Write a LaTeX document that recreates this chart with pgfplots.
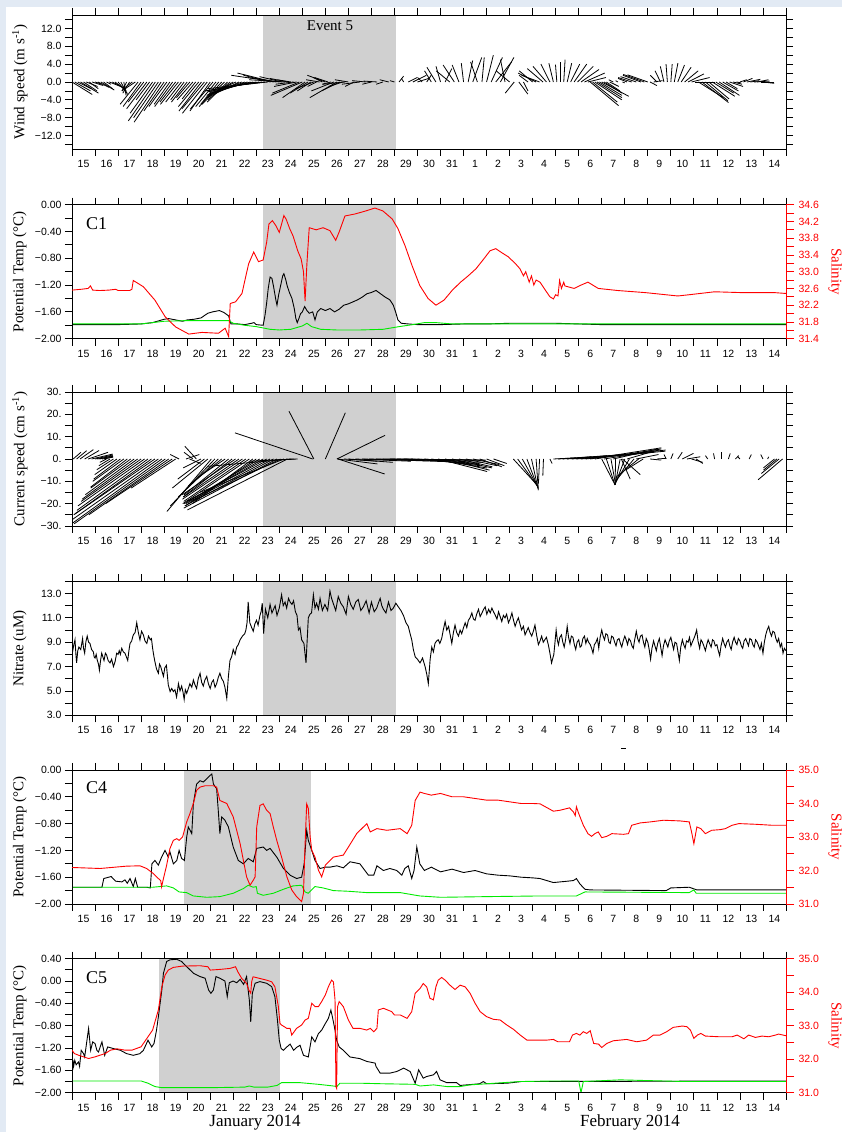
\documentclass[border=0pt]{standalone}
\usepackage{pgfplots}
\usepackage{pgfplotstable}
\pgfplotsset{compat=1.18}
\usepackage{fontspec}
\setmainfont{Liberation Serif}
\setsansfont{Liberation Sans}
\definecolor{shade}{RGB}{208,208,208}
\definecolor{frameblue}{RGB}{226,234,244}
\definecolor{sgreen}{RGB}{0,235,0}

\pgfplotstableread[row sep=\\]{
t u v\\
0.00 4.5 -2.8\\ 0.12 3.5 -2.0\\ 0.25 3.0 -1.5\\ 0.37 4.0 -2.5\\ 0.50 3.0 -2.0\\ 0.62 2.5 -1.0\\ 0.75 2.0 -1.5\\ 0.87 2.5 -0.8\\
1.00 1.5 -0.5\\ 1.12 2.5 -1.2\\ 1.25 3.0 -1.8\\ 1.37 2.0 -1.5\\ 1.50 1.0 -0.5\\ 1.62 2.5 -1.0\\ 1.75 3.0 -1.5\\ 1.87 2.5 -2.0\\
2.00 2.0 -2.5\\ 2.12 1.5 -2.8\\ 2.25 0.5 -3.0\\ 2.37 -1.0 -2.0\\ 2.50 -1.5 -2.5\\ 2.62 -2.0 -1.5\\ 2.75 -3.0 -2.0\\ 2.87 -4.0 -5.0\\
3.00 -4.0 -5.5\\ 3.12 -3.5 -4.5\\ 3.25 -4.5 -6.0\\ 3.37 -3.0 -4.0\\ 3.50 -5.0 -7.0\\ 3.62 -6.0 -8.7\\ 3.75 -5.5 -8.0\\ 3.87 -6.0 -9.0\\
4.00 -4.5 -6.5\\ 4.12 -4.0 -5.5\\ 4.25 -3.5 -5.0\\ 4.37 -4.0 -5.5\\ 4.50 -3.5 -4.5\\ 4.62 -4.0 -5.0\\ 4.75 -3.5 -4.5\\ 4.87 -3.0 -4.0\\
5.00 -3.5 -4.5\\ 5.12 -3.0 -3.5\\ 5.25 -3.5 -4.0\\ 5.37 -3.0 -3.8\\ 5.50 -4.5 -5.5\\ 5.62 -5.0 -6.5\\ 5.75 -5.0 -6.0\\ 5.87 -5.5 -7.0\\
6.00 -4.5 -6.5\\ 6.12 -5.0 -6.0\\ 6.25 -4.5 -5.5\\ 6.37 -4.0 -5.0\\ 6.50 -5.0 -5.5\\ 6.62 -5.0 -5.0\\ 6.75 -4.5 -4.5\\ 6.87 -5.0 -4.0\\
7.00 -6.0 -3.5\\ 7.12 -6.5 -3.0\\ 7.25 -7.0 -3.5\\ 7.37 -7.5 -3.0\\ 7.50 -8.0 -3.0\\ 7.62 -8.0 -2.5\\ 7.75 -9.0 -2.5\\ 7.87 -10.0 -2.2\\
8.00 -11.0 -2.0\\ 8.12 -12.0 -2.0\\ 8.25 -12.0 -1.5\\ 8.37 -10.0 -1.2\\ 8.50 -9.0 -1.0\\ 8.62 -6.0 1.5\\ 8.75 -8.0 2.0\\ 8.87 -10.0 1.5\\
9.00 -7.0 1.0\\ 9.12 -5.0 1.2\\ 9.25 -8.0 0.5\\ 9.37 -4.0 0.8\\ 9.50 -3.0 0.5\\ 9.62 -4.0 -0.5\\ 9.75 -5.0 -1.0\\ 9.87 -6.0 -2.5\\
10.00 -7.0 -3.0\\ 10.12 -5.0 -3.5\\ 10.25 -4.0 -2.5\\ 10.37 -3.0 -2.0\\ 10.50 -4.0 -1.5\\ 10.62 -2.0 -1.0\\ 10.75 -3.0 0.5\\ 10.87 -2.0 1.0\\
11.00 -4.0 1.5\\ 11.12 -3.0 1.0\\ 11.25 -2.0 -0.5\\ 11.37 -5.0 -2.0\\ 11.50 -6.0 -3.5\\ 11.62 -4.0 -2.0\\ 11.75 -3.0 -1.0\\ 11.87 -5.0 -0.5\\
12.00 -3.0 0.5\\ 12.25 -2.0 -1.0\\ 12.50 -4.0 -0.5\\ 12.75 -3.0 0.3\\ 13.00 -2.0 -0.5\\ 13.25 -3.0 0.2\\ 13.50 -1.5 -0.5\\ 13.75 -2.0 0.5\\
14.00 -1.0 0.3\\ 14.20 1.0 1.3\\ 14.40 -0.5 0.8\\ 14.60 2.0 1.0\\ 14.80 3.0 1.5\\ 15.00 2.5 0.8\\ 15.20 -1.0 1.0\\ 15.40 1.0 1.5\\
15.60 -1.5 2.5\\ 15.80 -2.0 3.3\\ 16.00 -1.0 3.5\\ 16.20 1.5 3.0\\ 16.40 -3.0 2.5\\ 16.60 -2.5 3.8\\ 16.80 -1.5 3.8\\ 17.00 -0.5 4.2\\
17.20 1.0 4.8\\ 17.40 2.0 5.5\\ 17.60 -1.5 4.5\\ 17.80 0.5 5.5\\ 18.00 1.5 6.0\\ 18.20 2.5 5.5\\ 18.40 3.5 4.5\\ 18.60 3.0 5.5\\
18.80 -1.0 5.0\\ 19.00 -3.0 2.5\\ 19.20 -2.0 -2.5\\ 19.40 2.0 -2.7\\ 19.60 1.0 -2.0\\ 19.80 -2.0 1.5\\ 20.00 -3.0 2.5\\ 20.15 -4.0 2.0\\
20.30 -4.0 1.5\\ 20.45 -3.5 3.0\\ 20.60 -3.0 3.5\\ 20.75 -2.0 4.0\\ 20.90 -1.0 4.2\\ 21.05 -0.3 3.9\\ 21.20 0.0 4.5\\ 21.35 0.3 5.0\\
21.50 1.0 4.2\\ 21.65 2.0 4.0\\ 21.80 2.8 4.0\\ 21.95 3.5 3.5\\ 22.10 4.0 2.8\\ 22.25 4.5 2.0\\ 22.40 4.0 1.0\\ 22.50 6.3 -5.3\\
22.60 5.5 -4.5\\ 22.70 6.0 -4.0\\ 22.80 5.5 -3.5\\ 22.90 5.0 -3.0\\ 23.00 6.0 -3.2\\ 23.10 4.0 -2.5\\ 23.20 3.0 -2.0\\ 23.35 2.0 -1.0\\
23.50 -1.0 0.5\\ 23.70 -0.5 0.3\\ 23.90 0.5 -0.2\\ 24.10 -2.0 0.8\\ 24.30 -3.0 1.0\\ 24.50 -3.5 1.2\\ 24.70 -4.0 1.5\\ 24.85 -4.7 1.7\\
25.00 -4.5 1.6\\ 25.10 1.5 -0.8\\ 25.25 2.0 0.3\\ 25.40 -1.5 1.5\\ 25.55 -1.2 2.5\\ 25.70 -0.8 3.5\\ 25.85 -0.3 4.0\\ 26.00 0.3 4.0\\
26.15 0.8 4.2\\ 26.30 1.5 3.8\\ 26.45 2.2 3.3\\ 26.60 3.0 2.5\\ 26.75 3.5 1.8\\ 26.90 4.0 1.0\\ 27.05 4.5 0.0\\ 27.20 5.5 -3.5\\
27.35 5.9 -4.6\\ 27.50 5.0 -4.2\\ 27.65 4.5 -3.8\\ 27.80 5.0 -3.2\\ 27.95 4.0 -2.5\\ 28.10 4.5 -3.0\\ 28.25 3.5 -2.0\\ 28.40 2.5 -1.5\\
28.55 3.0 -1.0\\ 28.70 2.0 -0.5\\ 28.85 1.0 -0.2\\ 29.00 1.5 0.5\\ 29.15 2.0 0.8\\ 29.30 3.0 0.6\\ 29.45 2.0 0.3\\ 29.60 3.5 0.2\\
29.75 2.5 0.5\\ 29.90 3.0 0.0\\ 30.00 2.5 -0.3\\
}\wind

\pgfplotstableread[row sep=\\]{
t u v\\
0.05 3.5 3.0\\ 0.20 4.5 3.7\\ 0.35 6.0 4.2\\ 0.55 6.5 3.8\\ 0.70 9.0 3.0\\ 0.85 9.5 2.2\\ 1.00 8.0 1.8\\ 1.10 7.0 1.2\\
1.20 6.0 1.5\\ 1.30 5.0 0.8\\ 1.40 4.0 1.0\\ 1.50 -3 -1.5\\ 1.65 -5 -3\\ 1.80 -7.5 -4.8\\ 1.95 -10 -7\\ 2.10 -12 -9\\
2.25 -14 -10\\ 2.40 -16.5 -12.6\\ 2.55 -18 -13\\ 2.70 -22 -16\\ 2.85 -25 -18\\ 3.00 -27 -19\\ 3.15 -30 -21\\ 3.30 -32 -23\\
3.45 -35 -25\\ 3.60 -36 -24.6\\ 3.75 -40 -28\\ 3.90 -42 -30\\ 4.05 -41 -29\\ 4.20 -36 -25\\ 4.35 -30 -20\\ 4.50 -20 -13\\
4.65 -4 2\\ 4.95 6 2\\ 5.10 5 -2\\ 5.25 -4 3\\ 5.40 -5.2 5.7\\ 5.60 -8 -4\\ 5.75 -12 -9\\ 5.90 -16 -13\\
6.05 -20 -23.5\\ 6.20 -20 -21\\ 6.35 -18 -17\\ 6.50 -15 -12\\ 6.65 -12 -8\\ 6.80 -20 -16\\ 6.95 -22 -17\\ 7.10 -24 -16\\
7.25 -25 -17\\ 7.40 -27 -18\\ 7.55 -28 -19\\ 7.70 -30 -20\\ 7.85 -27 -19.8\\ 8.00 -32 -21\\ 8.15 -34 -20\\ 8.30 -33 -18.6\\
8.45 -36 -19\\ 8.60 -38 -20\\ 8.75 -40 -21\\ 8.90 -42 -22\\ 9.05 -40 -19\\ 9.20 -38 -15\\ 9.35 -45 -22.8\\ 9.50 -37.5 -3.3\\
9.65 -20 -1\\ 9.80 -10 -0.5\\ 10.45 -35 11.7\\ 10.50 -11.2 21.4\\ 11.00 9 20.7\\ 11.50 21.7 10.6\\ 11.52 18 -2.2\\ 11.55 21 -6.7\\
11.80 15 -1\\ 12.00 20 -1.5\\ 12.30 25 -1\\ 12.60 30 -0.8\\ 12.90 35 -1.2\\ 13.20 38 -0.8\\ 13.50 40 -0.5\\ 13.80 42 -0.6\\
14.10 40 -0.5\\ 14.40 35 -1.5\\ 14.70 30 -2\\ 15.00 28 -2.5\\ 15.30 25 -3\\ 15.60 25 -4\\ 15.90 22 -5.6\\ 16.20 20 -5\\
16.50 18 -4\\ 16.80 15 -3.5\\ 17.10 14 -3\\ 17.40 12 -2.5\\ 17.70 10 -3.5\\ 18.00 8 -3\\ 18.30 6 -2\\ 19.16 11.3 -12.3\\
19.35 9 -12.3\\ 19.55 7 -12.5\\ 19.75 5 -13\\ 19.95 3 -13.5\\ 20.15 1 -14\\ 20.30 -0.5 -11\\ 20.47 -0.3 -7.5\\ 20.75 1 -2\\
20.90 10 0.5\\ 21.10 15 1\\ 21.30 20 1.5\\ 21.50 25 2\\ 21.70 30 2.5\\ 21.90 35 3\\ 22.10 38 3.5\\ 22.30 36 4\\
22.50 32 5\\ 22.70 30 4.5\\ 23.00 6 -11.6\\ 23.10 25 4\\ 23.20 3.9 -11.6\\ 23.40 2 -11\\ 23.50 20 4.5\\ 23.60 -0.2 -11.6\\
23.80 -2.3 -11.6\\ 23.85 4 -9\\ 23.90 8 -7\\ 24.00 -4.4 -11.6\\ 24.10 12 3.5\\ 24.20 -6.5 -11\\ 24.40 -8.5 -10\\ 24.50 10 2\\
24.60 -10 -8\\ 24.80 -8 -5\\ 25.10 5 -0.5\\ 25.40 4 0.3\\ 25.80 -1 2\\ 26.00 1 2.5\\ 26.30 2 3\\ 26.50 5 2.5\\
26.70 6 1\\ 26.90 5 -1.5\\ 27.10 3 -2\\ 27.60 -1 1.5\\ 27.90 -0.5 2.5\\ 28.20 0 3\\ 28.50 0.8 2.5\\ 28.80 1.5 1.5\\
29.00 -1 1\\ 29.40 1 2\\ 30.00 -1 2\\ 30.20 0.5 1\\ 30.50 -5 -4\\ 30.60 -6 -5\\ 30.70 -8 -6.5\\ 30.85 -11 -9.3\\
}\current

\pgfplotsset{
  panel/.style={
    scale only axis, width=714pt, height=134pt,
    xmin=0, xmax=31,
    xtick={0.5,1.5,...,30.5},
    xticklabels={15,16,17,18,19,20,21,22,23,24,25,26,27,28,29,30,31,1,2,3,4,5,6,7,8,9,10,11,12,13,14},
    minor xtick={0,1,...,31},
    tick align=outside,
    major tick length=0pt,
    minor tick length=7pt,
    tick style={black, line width=0.8pt},
    axis line style={line width=0.9pt},
    xtick pos=both, xticklabel pos=left,
    xticklabel style={font=\sffamily\fontsize{10.5}{12}\selectfont, inner sep=0pt, anchor=base, yshift=-18.5pt},
    yticklabel style={font=\sffamily\fontsize{10.5}{12}\selectfont, xshift=-7pt},
    axis on top,
    every axis y label/.style={at={(axis description cs:-0.073,0.5)}, rotate=90, anchor=center, font=\fontsize{15}{17}\selectfont},
  },
  rightax/.style={
    scale only axis, width=714pt, height=134pt,
    xmin=0, xmax=31,
    axis x line=none, axis y line*=right,
    tick align=outside,
    major tick length=0pt, minor tick length=8pt,
    tick style={red, line width=0.8pt},
    y axis line style={red, line width=0.9pt},
    yticklabel style={red, font=\sffamily\fontsize{10.5}{12}\selectfont, xshift=9pt},
    ylabel={Salinity},
    every axis y label/.style={at={(axis description cs:1.069,0.5)}, rotate=-90, anchor=center, red, font=\fontsize{15}{17}\selectfont},
  },
  tl/.style={line width=0.9pt},
}

\begin{document}
\begin{tikzpicture}
\useasboundingbox (0,0) rectangle (842pt,1132pt);
\fill[frameblue] (0,0) rectangle (842pt,1132pt);
\fill[white] (6pt,0) rectangle (842pt,1125pt);

% ---------------- Panel 1: wind ----------------
\begin{axis}[panel, at={(72pt,983pt)}, anchor=south west,
  ymin=-15, ymax=15,
  ytick={-12,-8,-4,0,4,8,12},
  yticklabels={−12.0,−8.0,−4.0,0.0,4.0,8.0,12.0},
  minor ytick={-14,-12,...,14},
  ytick pos=both, yticklabel pos=left,
  ylabel={Wind speed (m s\textsuperscript{-1})}]
\addplot[fill=shade, draw=none] coordinates {(8.28,-15) (14.07,-15) (14.07,15) (8.28,15)} --cycle;
\addplot[black, line width=0.8pt, quiver={u={0.1954*\thisrow{u}}, v={\thisrow{v}}}] table[x=t, y expr=0] {\wind};
\node[font=\fontsize{15}{17}\selectfont] at (axis cs:11.2,12.6) {Event 5};
\end{axis}

% ---------------- Panel 2: C1 ----------------
\begin{axis}[panel, at={(72pt,793.3pt)}, anchor=south west,
  ymin=-2, ymax=0,
  ytick={-2,-1.6,-1.2,-0.8,-0.4,0},
  yticklabels={−2.00,−1.60,−1.20,−0.80,−0.40,0.00},
  minor ytick={-2,-1.8,-1.6,-1.4,-1.2,-1,-0.8,-0.6,-0.4,-0.2,0},
  ytick pos=left,
  ylabel={Potential Temp (°C)}]
\addplot[fill=shade, draw=none] coordinates {(8.28,-2) (14.07,-2) (14.07,0) (8.28,0)} --cycle;
\addplot[black, tl] coordinates {(0,-1.79) (1,-1.79) (2,-1.79) (3,-1.78) (3.5,-1.76) (4.0,-1.71) (4.2,-1.70) (4.5,-1.72) (4.8,-1.74) (5.0,-1.72) (5.3,-1.71) (5.6,-1.69) (5.9,-1.62) (6.1,-1.6) (6.4,-1.58) (6.6,-1.61) (6.8,-1.66) (6.85,-1.72) (6.9,-1.78) (7.2,-1.78) (7.5,-1.79) (7.8,-1.77) (7.9,-1.76) (8.0,-1.79) (8.3,-1.80) (8.38,-1.65) (8.45,-1.47) (8.52,-1.25) (8.6,-1.08) (8.68,-1.1) (8.75,-1.22) (8.85,-1.42) (8.9,-1.5) (8.97,-1.35) (9.05,-1.22) (9.15,-1.06) (9.2,-1.03) (9.28,-1.12) (9.35,-1.22) (9.45,-1.32) (9.55,-1.4) (9.65,-1.55) (9.72,-1.7) (9.78,-1.76) (9.85,-1.7) (9.92,-1.63) (10.0,-1.6) (10.1,-1.52) (10.2,-1.58) (10.3,-1.62) (10.45,-1.6) (10.55,-1.72) (10.65,-1.6) (10.8,-1.55) (11.0,-1.58) (11.2,-1.55) (11.4,-1.6) (11.6,-1.56) (11.8,-1.5) (12.0,-1.48) (12.2,-1.45) (12.4,-1.42) (12.6,-1.38) (12.8,-1.33) (13.0,-1.31) (13.2,-1.28) (13.4,-1.33) (13.6,-1.38) (13.8,-1.42) (13.95,-1.5) (14.05,-1.6) (14.15,-1.72) (14.3,-1.77) (14.6,-1.78) (15,-1.79) (16,-1.79) (17,-1.78) (18,-1.78) (19,-1.77) (20,-1.77) (21,-1.77) (22,-1.78) (23,-1.79) (31,-1.79)};
\addplot[sgreen, tl] coordinates {(0,-1.78) (3.0,-1.78) (3.5,-1.76) (4.0,-1.74) (5.0,-1.73) (6.0,-1.73) (6.8,-1.73) (7.0,-1.77) (7.5,-1.8) (8.0,-1.82) (8.3,-1.84) (8.6,-1.86) (9.0,-1.87) (9.5,-1.86) (10.0,-1.81) (10.2,-1.77) (10.4,-1.82) (10.8,-1.86) (11.5,-1.87) (12.5,-1.87) (13.5,-1.86) (14.2,-1.82) (14.8,-1.79) (15.3,-1.76) (15.8,-1.76) (16.5,-1.78) (18,-1.78) (31,-1.78)};
\node[anchor=west, font=\fontsize{18}{20}\selectfont] at (axis description cs:0.015,0.858) {C1};
\end{axis}
\begin{axis}[rightax, at={(72pt,793.3pt)}, anchor=south west,
  ymin=31.4, ymax=34.6,
  ytick={31.4,31.8,32.2,32.6,33.0,33.4,33.8,34.2,34.6},
  yticklabels={31.4,31.8,32.2,32.6,33.0,33.4,33.8,34.2,34.6},
  minor ytick={31.4,31.6,31.8,32.0,32.2,32.4,32.6,32.8,33.0,33.2,33.4,33.6,33.8,34.0,34.2,34.4,34.6}]
\addplot[red, tl] coordinates {(0,32.56) (0.4,32.58) (0.7,32.6) (0.8,32.66) (0.9,32.56) (1.2,32.55) (1.6,32.56) (1.9,32.58) (2.0,32.55) (2.5,32.55) (2.6,32.58) (2.66,32.79) (2.75,32.76) (3.1,32.64) (3.6,32.32) (4.05,31.92) (4.5,31.68) (5.07,31.51) (5.64,31.55) (6.0,31.54) (6.36,31.53) (6.65,31.65) (6.8,31.45) (6.87,32.24) (7.1,32.28) (7.38,32.48) (7.55,32.9) (7.67,33.19) (7.89,33.47) (8.1,33.24) (8.3,33.28) (8.45,33.7) (8.55,34.14) (8.7,34.22) (8.85,34.1) (9.0,33.94) (9.2,34.34) (9.3,34.25) (9.45,34.03) (9.6,33.85) (9.8,33.5) (9.95,33.3) (10.05,33.0) (10.12,32.3) (10.2,33.2) (10.3,34.05) (10.6,34.0) (10.9,34.05) (11.2,33.98) (11.45,33.75) (11.6,33.95) (11.85,34.33) (12.3,34.38) (12.75,34.45) (13.15,34.52) (13.5,34.45) (13.9,34.26) (14.15,34.03) (14.46,33.62) (14.76,33.15) (15.1,32.67) (15.46,32.36) (15.8,32.2) (16.15,32.32) (16.5,32.55) (16.85,32.74) (17.2,32.9) (17.54,33.07) (17.9,33.32) (18.15,33.5) (18.4,33.55) (18.67,33.45) (18.93,33.36) (19.24,33.2) (19.45,33.07) (19.6,32.9) (19.7,33.0) (19.85,32.75) (19.95,32.9) (20.05,32.68) (20.15,32.8) (20.32,32.75) (20.5,32.6) (20.75,32.4) (20.9,32.35) (21.0,32.45) (21.1,32.42) (21.17,32.79) (21.25,32.6) (21.35,32.75) (21.4,32.66) (21.8,32.6) (22.1,32.68) (22.4,32.75) (22.85,32.6) (23.7,32.55) (24.9,32.5) (26.3,32.42) (26.8,32.45) (27.9,32.52) (29.1,32.5) (30.5,32.5) (31,32.48)};
\end{axis}

% ---------------- Panel 3: current ----------------
\begin{axis}[panel, at={(72pt,606pt)}, anchor=south west,
  ymin=-30, ymax=30,
  ytick={-30,-20,-10,0,10,20,30},
  yticklabels={−30.,−20.,−10.,0.,10.,20.,30.},
  minor ytick={-30,-25,...,30},
  ytick pos=both, yticklabel pos=left,
  ylabel={Current speed (cm s\textsuperscript{-1})}]
\addplot[fill=shade, draw=none] coordinates {(8.28,-30) (14.07,-30) (14.07,30) (8.28,30)} --cycle;
\addplot[black, line width=0.8pt, quiver={u={0.0964*\thisrow{u}}, v={\thisrow{v}}}] table[x=t, y expr=0] {\current};
\end{axis}

% ---------------- Panel 4: nitrate ----------------
\begin{axis}[panel, at={(72pt,416.7pt)}, anchor=south west,
  ymin=3, ymax=14,
  ytick={3,5,7,9,11,13},
  yticklabels={3.0,5.0,7.0,9.0,11.0,13.0},
  minor ytick={3,4,...,14},
  ytick pos=both, yticklabel pos=left,
  ylabel={Nitrate (uM)}]
\addplot[fill=shade, draw=none] coordinates {(8.28,3) (14.07,3) (14.07,14) (8.28,14)} --cycle;
\addplot[black, tl] coordinates {(0,7.96) (0.07,8.7) (0.13,9.2) (0.17,8.0) (0.2,7.3) (0.25,8.3) (0.3,8.6) (0.38,8.4) (0.46,9.3) (0.5,8.5) (0.55,8.1) (0.6,9.0) (0.66,9.5) (0.72,9.0) (0.78,8.9) (0.85,8.4) (0.93,8.2) (0.96,7.8) (1.0,7.7) (1.05,8.0) (1.1,7.5) (1.15,7.2) (1.19,6.7) (1.24,7.5) (1.29,8.1) (1.34,7.8) (1.39,7.5) (1.45,8.1) (1.5,7.96) (1.57,7.5) (1.65,7.3) (1.72,7.6) (1.8,7.0) (1.87,7.4) (1.94,8.1) (2.0,8.0) (2.05,8.3) (2.1,8.0) (2.16,8.5) (2.23,8.2) (2.3,8.1) (2.36,7.8) (2.42,7.5) (2.47,8.3) (2.52,8.9) (2.59,9.1) (2.66,9.6) (2.74,9.8) (2.81,10.6) (2.88,9.8) (2.95,9.2) (3.02,9.9) (3.1,9.6) (3.17,9.1) (3.25,8.9) (3.32,9.5) (3.4,9.2) (3.45,9.3) (3.5,8.5) (3.55,7.9) (3.6,7.4) (3.67,6.8) (3.75,6.45) (3.8,7.2) (3.85,7.0) (3.91,6.6) (3.97,6.2) (4.03,6.9) (4.1,7.1) (4.18,5.5) (4.26,4.95) (4.33,5.2) (4.4,4.95) (4.47,5.1) (4.54,4.5) (4.58,5.0) (4.62,5.6) (4.69,5.0) (4.76,5.4) (4.82,4.9) (4.87,4.3) (4.92,5.1) (4.98,4.8) (5.05,5.2) (5.12,5.6) (5.2,5.3) (5.27,5.9) (5.34,5.5) (5.41,5.2) (5.48,6.0) (5.56,6.45) (5.63,5.7) (5.7,5.4) (5.77,5.9) (5.85,6.2) (5.92,5.6) (6.0,5.2) (6.07,5.7) (6.14,5.9) (6.21,5.3) (6.28,5.6) (6.35,6.1) (6.42,6.45) (6.5,6.0) (6.57,5.8) (6.64,5.3) (6.72,4.4) (6.79,6.2) (6.86,7.5) (6.93,7.8) (7.0,8.4) (7.08,8.0) (7.15,8.6) (7.22,8.8) (7.3,9.2) (7.4,9.5) (7.5,9.7) (7.55,10.0) (7.6,10.6) (7.65,12.3) (7.72,10.6) (7.8,10.2) (7.87,9.9) (7.94,10.5) (8.01,10.8) (8.08,10.4) (8.16,11.2) (8.21,11.5) (8.26,12.2) (8.32,9.7) (8.4,11.7) (8.5,11.0) (8.6,12.1) (8.68,11.4) (8.75,11.7) (8.82,12.0) (8.9,11.2) (9.0,11.8) (9.1,12.9) (9.17,12.0) (9.25,12.3) (9.32,11.8) (9.4,12.6) (9.47,12.3) (9.55,12.1) (9.62,12.4) (9.7,11.5) (9.77,11.2) (9.83,10.0) (9.9,10.2) (9.97,9.2) (10.07,8.9) (10.16,7.3) (10.26,11.0) (10.33,11.3) (10.4,11.4) (10.48,12.9) (10.55,11.8) (10.62,12.2) (10.7,11.7) (10.77,12.6) (10.87,11.6) (10.98,12.1) (11.1,11.6) (11.2,13.2) (11.27,12.6) (11.34,12.2) (11.45,11.6) (11.56,12.75) (11.67,12.2) (11.78,11.9) (11.9,11.3) (12.0,12.75) (12.1,12.1) (12.21,11.7) (12.32,12.3) (12.43,12.5) (12.54,11.6) (12.65,11.9) (12.77,12.4) (12.9,11.4) (13.0,12.3) (13.12,11.5) (13.23,11.8) (13.3,12.2) (13.38,12.6) (13.45,12.0) (13.52,11.7) (13.63,11.4) (13.74,12.3) (13.85,11.6) (13.95,11.8) (14.06,12.2) (14.17,11.9) (14.28,11.6) (14.39,11.2) (14.5,10.6) (14.6,10.3) (14.68,9.7) (14.75,9.2) (14.82,8.4) (14.9,7.8) (15.0,7.6) (15.11,7.3) (15.22,7.7) (15.33,7.0) (15.4,6.4) (15.47,5.6) (15.55,7.6) (15.62,8.6) (15.69,8.2) (15.76,8.9) (15.83,9.1) (15.9,9.2) (15.97,8.9) (16.05,9.3) (16.12,10.0) (16.2,10.7) (16.27,10.0) (16.35,10.3) (16.42,9.6) (16.49,8.9) (16.56,9.8) (16.63,10.4) (16.7,9.8) (16.78,9.5) (16.85,10.0) (16.92,9.7) (17.0,10.2) (17.07,10.6) (17.14,10.2) (17.21,10.8) (17.28,11.0) (17.36,11.4) (17.43,10.9) (17.5,10.8) (17.57,11.3) (17.65,11.7) (17.72,11.1) (17.8,11.4) (17.87,11.7) (17.94,11.9) (18.01,11.3) (18.09,11.7) (18.16,11.4) (18.23,11.8) (18.3,11.5) (18.38,11.2) (18.45,10.9) (18.52,11.5) (18.59,11.1) (18.66,10.7) (18.73,11.2) (18.8,11.0) (18.87,11.3) (18.95,10.6) (19.02,10.9) (19.1,11.4) (19.17,10.8) (19.24,10.3) (19.31,10.7) (19.38,11.0) (19.45,10.5) (19.52,10.0) (19.6,10.3) (19.67,9.6) (19.74,9.9) (19.81,10.2) (19.88,9.8) (19.96,9.5) (20.03,9.9) (20.1,10.4) (20.17,9.6) (20.25,8.8) (20.32,9.1) (20.39,9.5) (20.46,9.0) (20.53,9.2) (20.6,9.4) (20.68,8.8) (20.75,8.1) (20.82,7.3) (20.92,8.0) (21.02,10.0) (21.07,9.2) (21.12,8.8) (21.18,9.4) (21.25,9.6) (21.31,9.0) (21.37,8.6) (21.43,9.2) (21.5,10.3) (21.56,9.4) (21.62,8.9) (21.68,9.5) (21.75,9.4) (21.81,8.8) (21.87,8.4) (21.93,9.0) (22.0,9.2) (22.06,8.6) (22.12,8.7) (22.18,9.3) (22.25,9.5) (22.31,8.9) (22.37,9.3) (22.43,9.0) (22.5,8.8) (22.56,8.5) (22.62,8.1) (22.68,8.8) (22.75,9.0) (22.81,9.3) (22.87,8.5) (22.93,9.4) (23.0,10.0) (23.06,9.5) (23.12,9.2) (23.18,9.7) (23.25,9.6) (23.31,9.0) (23.37,8.9) (23.43,9.5) (23.5,9.4) (23.56,9.0) (23.62,8.7) (23.68,9.2) (23.75,9.3) (23.81,8.9) (23.87,8.6) (23.93,9.1) (24.0,9.5) (24.06,9.2) (24.12,8.8) (24.18,9.3) (24.25,9.1) (24.31,8.7) (24.37,8.5) (24.43,9.2) (24.5,9.9) (24.56,9.3) (24.62,9.0) (24.68,9.5) (24.75,9.6) (24.81,9.0) (24.87,8.6) (24.93,9.3) (25.0,9.0) (25.06,8.4) (25.12,7.6) (25.18,8.5) (25.25,9.1) (25.31,8.7) (25.37,8.3) (25.43,8.9) (25.5,9.3) (25.56,8.6) (25.62,7.9) (25.68,8.7) (25.75,9.2) (25.81,8.9) (25.87,8.6) (25.93,9.1) (26.0,9.4) (26.06,8.9) (26.12,8.4) (26.18,9.0) (26.25,8.9) (26.31,8.2) (26.37,7.5) (26.43,8.6) (26.5,9.2) (26.56,8.8) (26.62,8.5) (26.68,9.1) (26.75,9.0) (26.81,9.4) (26.87,8.7) (26.93,9.0) (27.0,9.3) (27.06,9.6) (27.12,10.0) (27.18,9.1) (27.25,8.5) (27.31,9.2) (27.37,9.0) (27.43,8.7) (27.5,8.3) (27.56,8.8) (27.62,9.2) (27.68,8.9) (27.75,8.6) (27.81,9.2) (27.87,9.1) (27.93,8.7) (28.0,8.8) (28.06,8.3) (28.12,7.9) (28.18,8.7) (28.25,9.3) (28.31,8.9) (28.37,8.6) (28.43,9.0) (28.5,9.2) (28.56,8.7) (28.62,8.4) (28.68,9.0) (28.75,9.4) (28.81,9.0) (28.87,8.8) (28.93,9.3) (29.0,9.1) (29.06,8.7) (29.12,8.5) (29.18,9.1) (29.25,9.3) (29.31,9.0) (29.37,8.7) (29.43,9.3) (29.5,9.2) (29.56,8.8) (29.62,8.6) (29.68,9.2) (29.75,9.0) (29.81,8.7) (29.87,8.4) (29.93,8.9) (30.0,8.1) (30.06,9.0) (30.12,9.6) (30.18,10.0) (30.25,10.3) (30.31,9.8) (30.37,9.5) (30.43,9.9) (30.5,9.8) (30.56,9.3) (30.62,9.0) (30.68,9.3) (30.75,8.6) (30.81,8.9) (30.87,8.1) (30.93,8.5) (31.0,8.3)};
\end{axis}

% ---------------- Panel 5: C4 ----------------
\begin{axis}[panel, at={(72pt,228pt)}, anchor=south west,
  ymin=-2, ymax=0,
  ytick={-2,-1.6,-1.2,-0.8,-0.4,0},
  yticklabels={−2.00,−1.60,−1.20,−0.80,−0.40,0.00},
  minor ytick={-2,-1.8,-1.6,-1.4,-1.2,-1,-0.8,-0.6,-0.4,-0.2,0},
  ytick pos=left,
  ylabel={Potential Temp (°C)}]
\addplot[fill=shade, draw=none] coordinates {(4.88,-2) (10.38,-2) (10.38,0) (4.88,0)} --cycle;
\addplot[black, tl] coordinates {(0,-1.75) (1.3,-1.75) (1.38,-1.62) (1.7,-1.59) (1.9,-1.66) (2.17,-1.67) (2.3,-1.64) (2.4,-1.69) (2.52,-1.62) (2.66,-1.74) (2.75,-1.62) (2.85,-1.75) (3.24,-1.75) (3.4,-1.76) (3.47,-1.4) (3.6,-1.35) (3.75,-1.42) (3.89,-1.3) (4.04,-1.2) (4.18,-1.3) (4.25,-1.22) (4.4,-1.4) (4.55,-1.35) (4.65,-1.2) (4.76,-1.32) (4.88,-1.35) (4.98,-1.0) (5.05,-0.85) (5.2,-0.95) (5.27,-0.5) (5.41,-0.21) (5.56,-0.16) (5.7,-0.18) (5.85,-0.13) (6.0,-0.08) (6.07,-0.06) (6.14,-0.21) (6.28,-0.28) (6.35,-0.6) (6.42,-0.95) (6.5,-0.7) (6.64,-0.75) (6.79,-0.85) (7.0,-1.15) (7.22,-1.35) (7.44,-1.4) (7.65,-1.32) (7.87,-1.37) (8.02,-1.17) (8.3,-1.15) (8.45,-1.2) (8.6,-1.17) (8.89,-1.3) (9.18,-1.47) (9.47,-1.57) (9.75,-1.62) (9.97,-1.6) (10.08,-1.4) (10.19,-0.9) (10.26,-1.05) (10.41,-1.2) (10.55,-1.35) (10.77,-1.47) (11.0,-1.45) (11.2,-1.45) (11.5,-1.43) (11.78,-1.46) (12.07,-1.37) (12.5,-1.4) (12.87,-1.57) (13.1,-1.57) (13.24,-1.43) (13.52,-1.5) (13.8,-1.47) (14.1,-1.5) (14.32,-1.57) (14.45,-1.47) (14.6,-1.43) (14.75,-1.62) (14.85,-1.5) (14.97,-1.15) (15.1,-1.4) (15.3,-1.5) (15.6,-1.45) (16.0,-1.52) (16.5,-1.48) (17.0,-1.53) (17.5,-1.5) (18.0,-1.55) (18.5,-1.57) (19.0,-1.58) (19.5,-1.6) (20.0,-1.61) (20.32,-1.62) (20.9,-1.68) (21.5,-1.66) (21.77,-1.65) (21.9,-1.62) (22.05,-1.7) (22.27,-1.78) (22.5,-1.79) (25.8,-1.8) (26.0,-1.76) (26.8,-1.75) (27.13,-1.79) (31,-1.79)};
\addplot[sgreen, tl] coordinates {(0,-1.75) (3.5,-1.75) (4.11,-1.73) (4.4,-1.76) (4.65,-1.82) (4.98,-1.83) (5.27,-1.88) (5.85,-1.9) (6.42,-1.89) (7.0,-1.84) (7.44,-1.77) (7.65,-1.72) (7.87,-1.75) (8.0,-1.74) (8.05,-1.84) (8.3,-1.87) (8.74,-1.84) (9.18,-1.78) (9.6,-1.73) (9.97,-1.72) (10.12,-1.82) (10.26,-1.84) (10.55,-1.74) (10.9,-1.76) (11.35,-1.8) (12.0,-1.81) (12.8,-1.83) (14.25,-1.83) (15.1,-1.88) (16,-1.9) (18,-1.89) (20.32,-1.88) (21.9,-1.88) (22.27,-1.82) (26.8,-1.83) (27.0,-1.79) (27.1,-1.84) (31,-1.84)};
\node[anchor=west, font=\fontsize{18}{20}\selectfont] at (axis description cs:0.015,0.865) {C4};
\end{axis}
\begin{axis}[rightax, at={(72pt,228pt)}, anchor=south west,
  ymin=31, ymax=35,
  ytick={31,32,33,34,35},
  yticklabels={31.0,32.0,33.0,34.0,35.0},
  minor ytick={31,31.5,...,35}]
\addplot[red, tl] coordinates {(0,32.09) (1.22,32.06) (2.37,32.13) (2.95,32.14) (3.24,32.06) (3.53,31.91) (3.75,31.76) (3.85,31.7) (3.89,31.51) (3.95,31.7) (4.11,32.16) (4.25,32.65) (4.4,32.9) (4.55,32.95) (4.65,32.9) (4.8,33.0) (4.98,33.45) (5.12,33.7) (5.27,34.0) (5.41,34.39) (5.56,34.49) (5.78,34.53) (6.14,34.53) (6.28,34.49) (6.42,34.09) (6.72,34.0) (7.0,33.6) (7.3,32.8) (7.58,31.81) (7.73,31.56) (7.87,31.71) (7.95,31.81) (8.02,33.3) (8.16,33.94) (8.3,33.99) (8.45,33.8) (8.6,33.7) (8.74,33.3) (8.89,32.9) (9.1,32.4) (9.33,31.81) (9.54,31.42) (9.75,31.22) (9.9,31.12) (9.97,31.07) (10.05,31.32) (10.12,32.8) (10.19,33.99) (10.26,33.85) (10.34,33.0) (10.41,32.6) (10.55,32.4) (10.7,32.01) (10.84,31.81) (11.0,32.16) (11.35,32.4) (11.78,32.46) (12.0,32.7) (12.36,33.1) (12.8,33.4) (12.95,33.15) (13.24,33.25) (13.67,33.2) (14.25,33.25) (14.55,33.1) (14.75,33.35) (14.9,34.09) (15.11,34.34) (15.3,34.3) (15.6,34.25) (16.0,34.3) (16.5,34.2) (17.0,34.2) (17.5,34.15) (18.0,34.1) (18.5,34.1) (19.0,34.05) (19.5,34.0) (20.0,34.0) (20.32,33.99) (20.9,33.77) (21.2,33.8) (21.6,33.87) (21.77,33.75) (21.85,33.64) (21.9,33.9) (22.0,33.7) (22.2,33.35) (22.4,33.1) (22.56,33.02) (22.7,33.1) (22.85,33.15) (23.0,32.98) (23.22,33.02) (23.44,33.1) (23.94,33.08) (24.16,33.1) (24.3,33.35) (24.67,33.42) (25.1,33.45) (25.68,33.5) (26.4,33.48) (26.8,33.45) (26.9,33.15) (27.0,32.8) (27.13,33.3) (27.3,33.25) (27.5,33.1) (27.77,33.2) (28.15,33.22) (28.37,33.25) (28.66,33.35) (28.95,33.4) (29.67,33.38) (30.4,33.35) (31,33.35)};
\end{axis}

% ---------------- Panel 6: C5 ----------------
\begin{axis}[panel, at={(72pt,39.3pt)}, anchor=south west,
  ymin=-2, ymax=0.4,
  ytick={-2,-1.6,-1.2,-0.8,-0.4,0,0.4},
  yticklabels={−2.00,−1.60,−1.20,−0.80,−0.40,0.00,0.40},
  minor ytick={-2,-1.8,-1.6,-1.4,-1.2,-1,-0.8,-0.6,-0.4,-0.2,0,0.2,0.4},
  ytick pos=left,
  ylabel={Potential Temp (°C)}]
\addplot[fill=shade, draw=none] coordinates {(3.79,-2) (9.03,-2) (9.03,0.4) (3.79,0.4)} --cycle;
\addplot[black, tl] coordinates {(0,-1.3) (0.03,-1.5) (0.05,-1.42) (0.07,-1.53) (0.12,-1.42) (0.18,-1.5) (0.28,-1.45) (0.33,-1.53) (0.4,-1.24) (0.5,-1.3) (0.55,-1.36) (0.65,-1.06) (0.72,-0.85) (0.81,-1.24) (0.9,-1.09) (1.0,-1.12) (1.08,-1.24) (1.15,-1.27) (1.3,-1.09) (1.42,-1.33) (1.55,-1.18) (1.8,-1.21) (2.1,-1.24) (2.37,-1.3) (2.66,-1.33) (2.95,-1.3) (3.1,-1.24) (3.3,-1.06) (3.46,-1.18) (3.56,-1.12) (3.67,-0.88) (3.75,-0.64) (3.9,-0.16) (3.97,0.14) (4.11,0.35) (4.26,0.38) (4.54,0.39) (4.76,0.35) (4.9,0.29) (5.05,0.23) (5.27,0.14) (5.56,0.08) (5.78,0.05) (5.93,-0.16) (6.03,-0.22) (6.14,-0.16) (6.25,0.08) (6.42,0.05) (6.64,0.0) (6.74,-0.28) (6.83,-0.03) (7.0,0.0) (7.15,-0.03) (7.3,0.03) (7.45,-0.06) (7.58,0.08) (7.7,-0.34) (7.76,-0.73) (7.83,-0.22) (7.95,-0.04) (8.16,-0.01) (8.45,-0.04) (8.67,-0.1) (8.81,-0.28) (8.92,-0.7) (9.0,-1.06) (9.08,-1.21) (9.18,-1.24) (9.33,-1.18) (9.47,-1.13) (9.62,-1.24) (9.75,-1.19) (9.9,-1.15) (10.05,-1.33) (10.26,-1.36) (10.41,-1.0) (10.55,-1.09) (10.7,-0.94) (10.84,-0.88) (11.0,-0.76) (11.13,-0.67) (11.24,-0.52) (11.32,-0.67) (11.42,-0.88) (11.49,-1.06) (11.6,-1.18) (11.78,-1.24) (12.07,-1.36) (12.5,-1.39) (12.8,-1.44) (13.16,-1.47) (13.2,-1.53) (13.38,-1.65) (13.8,-1.65) (14.1,-1.62) (14.4,-1.56) (14.68,-1.62) (14.9,-1.83) (15.05,-1.59) (15.25,-1.74) (15.4,-1.71) (15.69,-1.68) (15.83,-1.62) (15.98,-1.77) (16.27,-1.82) (16.7,-1.82) (16.85,-1.87) (17.7,-1.84) (17.86,-1.8) (18.0,-1.84) (18.9,-1.83) (19.5,-1.8) (31,-1.79)};
\addplot[sgreen, tl] coordinates {(0,-1.79) (3.0,-1.79) (3.3,-1.83) (3.6,-1.89) (3.9,-1.91) (6.0,-1.91) (7.5,-1.9) (7.7,-1.88) (7.9,-1.9) (8.5,-1.9) (8.9,-1.87) (9.1,-1.82) (9.9,-1.82) (10.7,-1.85) (11.35,-1.88) (11.5,-1.89) (11.63,-1.83) (12.5,-1.83) (13.5,-1.84) (14.9,-1.85) (15.11,-1.88) (15.7,-1.86) (16.27,-1.89) (16.85,-1.89) (17.28,-1.86) (18.0,-1.84) (19.46,-1.8) (20.9,-1.79) (22.0,-1.79) (22.1,-2.0) (22.2,-1.8) (23.8,-1.77) (26.6,-1.8) (31,-1.8)};
\node[anchor=west, font=\fontsize{18}{20}\selectfont] at (axis description cs:0.015,0.86) {C5};
\end{axis}
\begin{axis}[rightax, at={(72pt,39.3pt)}, anchor=south west,
  ymin=31, ymax=35,
  ytick={31,32,33,34,35},
  yticklabels={31.0,32.0,33.0,34.0,35.0},
  minor ytick={31,31.5,...,35}]
\addplot[red, tl] coordinates {(0,32.27) (0.1,32.17) (0.28,32.12) (0.72,32.02) (1.0,32.07) (1.22,32.12) (1.45,32.17) (1.67,32.27) (1.96,32.31) (2.3,32.27) (2.6,32.27) (2.8,32.32) (3.0,32.37) (3.2,32.57) (3.5,32.87) (3.75,33.47) (3.9,34.16) (4.04,34.51) (4.18,34.66) (4.4,34.74) (4.8,34.78) (5.56,34.79) (5.9,34.76) (6.0,34.66) (6.42,34.68) (6.86,34.71) (7.1,34.76) (7.2,34.61) (7.37,34.41) (7.58,34.26) (7.68,34.06) (7.76,33.97) (7.8,34.31) (7.86,34.46) (8.16,34.41) (8.45,34.36) (8.67,34.31) (8.81,34.16) (8.96,33.57) (9.03,33.07) (9.1,33.02) (9.33,32.92) (9.47,32.92) (9.54,32.72) (9.75,32.92) (9.97,33.02) (10.12,33.17) (10.26,33.22) (10.41,33.67) (10.55,33.57) (10.7,33.57) (10.84,33.72) (11.0,33.92) (11.13,34.16) (11.27,34.36) (11.35,34.31) (11.42,33.77) (11.46,31.18) (11.49,31.13) (11.53,33.57) (11.6,33.72) (11.78,33.57) (12.0,33.17) (12.2,32.92) (12.5,32.92) (12.8,32.87) (12.95,32.92) (13.1,32.82) (13.24,32.92) (13.3,33.47) (13.52,33.52) (13.88,33.42) (14.0,33.32) (14.25,33.32) (14.55,33.22) (14.75,33.42) (14.9,33.97) (15.11,34.11) (15.25,34.26) (15.4,34.16) (15.54,33.82) (15.69,33.77) (15.8,34.16) (15.9,34.36) (16.05,34.44) (16.2,34.36) (16.41,34.21) (16.63,34.08) (16.85,34.21) (17.07,34.16) (17.28,33.97) (17.5,33.67) (17.72,33.42) (18.0,33.27) (18.3,33.19) (18.59,33.17) (18.88,33.02) (19.17,32.89) (19.46,32.72) (19.75,32.57) (20.04,32.57) (20.62,32.57) (20.9,32.59) (21.1,32.52) (21.6,32.52) (21.73,32.72) (21.9,32.77) (22.05,32.72) (22.2,32.82) (22.35,32.77) (22.5,32.85) (22.57,32.67) (22.65,32.47) (22.86,32.45) (23.0,32.35) (23.22,32.47) (23.5,32.55) (24.08,32.59) (24.52,32.52) (24.95,32.57) (25.24,32.72) (25.53,32.72) (25.82,32.82) (26.1,32.95) (26.5,32.99) (26.7,32.97) (26.85,32.87) (27.0,32.62) (27.15,32.72) (27.3,32.77) (27.5,32.69) (28.1,32.67) (28.66,32.67) (28.88,32.72) (29.17,32.61) (29.38,32.72) (29.67,32.65) (29.96,32.69) (30.25,32.67) (30.54,32.72) (30.68,32.75) (31,32.7)};
\end{axis}

\draw[line width=0.8pt] (621pt,384pt) -- (626pt,384pt);
\node[font=\fontsize{17}{19}\selectfont, anchor=base, inner sep=0pt] at (255pt,5.5pt) {January 2014};
\node[font=\fontsize{17}{19}\selectfont, anchor=base, inner sep=0pt] at (630pt,5.5pt) {February 2014};
\end{tikzpicture}
\end{document}
